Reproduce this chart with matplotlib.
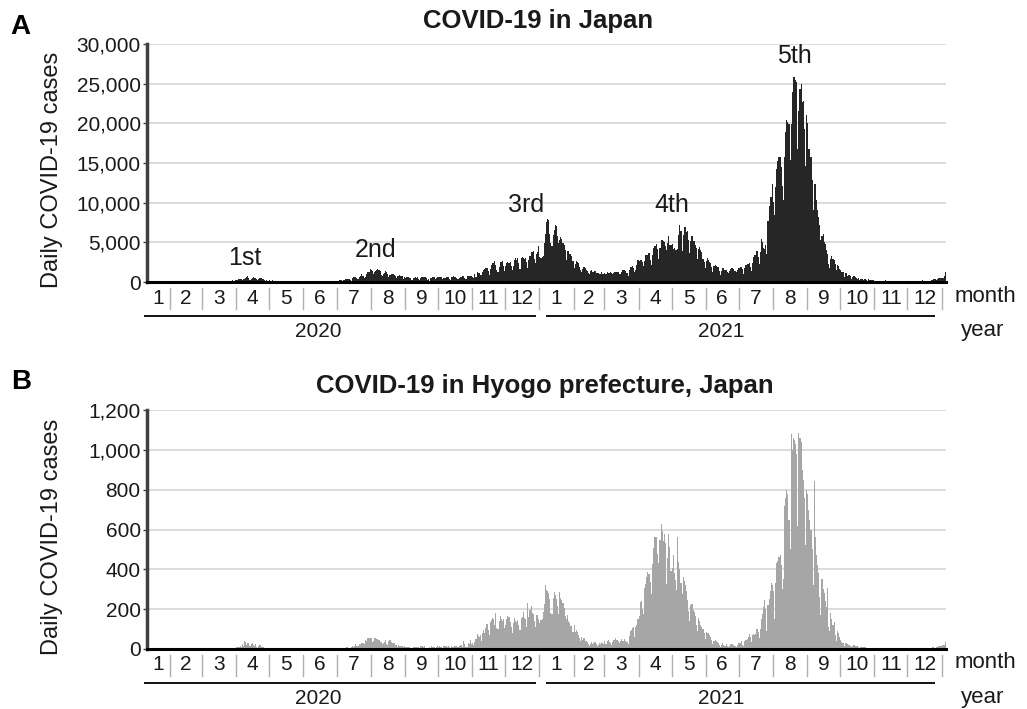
import numpy as np
import matplotlib.pyplot as plt
from matplotlib.ticker import FuncFormatter

plt.rcParams['font.family'] = ['Liberation Sans', 'DejaVu Sans']

W, H = 1027, 709
origin = np.datetime64('2020-01-01')
start_day = np.datetime64('2020-01-16')

# daily new cases, Japan (Jan 16 2020 - Jan 5 2022)
japan_2020 = [
    1, 0, 0, 0, 0, 0, 0, 1, 1, 0, 0, 2, 1, 3, 2, 1,
    3, 1, 2, 3, 2, 8, 1, 0, 3, 3, 1, 0, 2, 6, 9, 7, 11, 6, 6, 5, 12, 13, 22, 15, 14, 22, 14, 15, 21,
    14, 29, 23, 33, 32, 54, 41, 40, 43, 46, 52, 53, 63, 55, 38, 19, 44, 41, 42, 62, 51, 38, 45, 73, 94, 98, 110, 201, 165, 93, 228,
    291, 282, 356, 398, 360, 254, 343, 414, 523, 586, 720, 519, 307, 419, 482, 584, 551, 567, 363, 243, 387, 445, 442, 428, 349, 193, 180, 190, 188, 165,
    286, 145, 229, 173, 123, 58, 95, 85, 107, 100, 83, 54, 51, 76, 38, 56, 27, 29, 27, 38, 40, 29, 24, 14, 21, 35, 25, 40, 52, 43, 35,
    37, 33, 50, 44, 41, 42, 39, 29, 43, 53, 53, 54, 44, 71, 72, 45, 51, 47, 66, 65, 53, 39, 58, 99, 86, 105, 92, 108, 58, 89,
    128, 183, 250, 273, 210, 109, 198, 221, 357, 429, 398, 393, 265, 136, 451, 622, 594, 661, 508, 419, 631, 795, 981, 779, 813, 477, 598, 981, 1261, 1301, 1580,
    1536, 1331, 959, 1236, 1356, 1485, 1595, 1568, 1445, 824, 700, 966, 1177, 1361, 1227, 1019, 662, 852, 1010, 1038, 1040, 848, 720, 460, 750, 812, 865, 798, 762, 431, 587,
    502, 643, 627, 630, 492, 455, 267, 505, 509, 650, 555, 648, 414, 290, 539, 575, 616, 631, 634, 495, 314, 321, 189, 464, 559, 643, 593, 413, 554, 599,
    645, 588, 597, 584, 400, 450, 519, 692, 631, 618, 403, 306, 581, 677, 699, 608, 510, 421, 330, 531, 610, 654, 762, 727, 489, 427, 704, 727, 787, 732, 783,
    628, 487, 1058, 650, 1201, 1179, 1136, 938, 893, 1277, 1547, 1659, 1706, 1731, 1443, 943, 1699, 2201, 2388, 2428, 2596, 2166, 1528, 1228, 1950, 2509, 2500, 2684, 2070, 1438,
    2031, 2433, 2509, 2438, 2499, 2023, 1490, 2071, 2810, 2972, 2782, 3037, 2396, 1675, 2983, 3211, 3034, 2839, 2976, 2504, 1797, 2711, 3252, 3741, 3826, 3878, 2948, 2393, 3576, 3833, 4520,
]
japan_2021 = [
    3113, 3048, 3113, 3320, 4906, 6001, 7565, 7957, 7799, 6094, 4876, 4547, 5871, 6601, 7125, 7008, 5757, 4904, 5342, 5708, 5392, 4934, 4695, 3986, 2756, 3878, 3963, 3528, 3537, 3331, 2640,
    1788, 2300, 2640, 2571, 2381, 1951, 1555, 1269, 1677, 1879, 1705, 1549, 1394, 1092, 952, 1360, 1527, 1303, 1297, 1387, 1175, 1072, 1081, 996, 1070, 1218, 1030, 1028,
    1195, 1044, 1299, 1195, 1105, 1198, 1076, 1021, 1128, 1310, 1318, 1317, 1232, 1006, 1068, 1232, 1504, 1487, 1545, 1390, 1110, 816, 1516, 1917, 1922, 2004, 1782, 1256, 1551, 2083, 2802,
    2591, 2756, 2789, 2512, 2029, 2592, 3453, 3444, 3453, 3698, 2786, 2183, 3381, 4305, 4565, 4532, 4795, 4113, 2956, 4327, 5281, 5282, 5125, 5023, 4556, 4065, 4925, 5779, 4624, 4654,
    4781, 4140, 4312, 4077, 4030, 4200, 5946, 7221, 6482, 3880, 5893, 6918, 6894, 6260, 6418, 5289, 3684, 5158, 5764, 5230, 5140, 4700, 4230, 2868, 4210, 4410, 4000, 3770, 2904, 2568, 1794,
    2654, 3003, 2740, 2575, 2420, 1924, 1258, 2004, 2191, 1962, 1923, 1910, 1383, 931, 1401, 1757, 1743, 1560, 1470, 1293, 1117, 1401, 1684, 1753, 1758, 1617, 1425, 1230, 1564, 1732,
    1819, 1875, 1902, 1583, 1019, 1777, 2185, 2236, 2278, 2437, 1868, 1439, 2380, 3194, 3439, 3417, 3872, 3093, 2331, 3757, 5394, 5051, 4224, 4216, 4690, 3522, 7629, 9576, 10693, 10752, 12340,
    10034, 8387, 12029, 14205, 15263, 15750, 15753, 14472, 12076, 10296, 15812, 18889, 20366, 20144, 19955, 15386, 19955, 23917, 25876, 25876, 25492, 25157, 16806, 21563, 24312, 24969, 22735, 22785, 19277, 14639, 20999,
    20030, 16753, 16744, 15745, 12910, 9110, 12290, 12395, 10348, 9130, 8203, 7230, 5240, 5804, 6097, 5050, 4847, 4046, 3561, 2206, 1780, 2940, 3260, 2950, 2770, 2280, 1470, 2144, 1977, 1586,
    1457, 1321, 1240, 618, 1137, 1129, 819, 870, 880, 750, 378, 602, 704, 639, 557, 427, 450, 230, 384, 397, 421, 296, 351, 255, 154, 317, 293, 282, 244, 284, 264,
    86, 174, 152, 123, 162, 186, 166, 109, 174, 182, 204, 141, 173, 152, 78, 124, 159, 139, 128, 121, 117, 64, 98, 89, 98, 119, 120, 90, 99, 112,
    147, 135, 110, 115, 126, 105, 115, 93, 181, 144, 136, 150, 95, 194, 177, 177, 132, 183, 135, 129, 165, 229, 267, 336, 375, 335, 293, 404, 479, 522, 516,
]
japan_2022 = [555, 551, 783, 1266, 2638]

# daily new cases, Hyogo prefecture (same days)
hyogo_2020 = [
    0, 0, 0, 0, 0, 0, 0, 0, 0, 0, 0, 0, 0, 0, 0, 0,
    0, 0, 0, 0, 0, 0, 0, 0, 0, 0, 0, 0, 0, 0, 0, 0, 0, 0, 0, 0, 0, 0, 0, 0, 0, 0, 0, 0, 0,
    0, 0, 2, 1, 0, 1, 2, 3, 4, 1, 3, 2, 1, 4, 2, 1, 3, 1, 2, 0, 2, 1, 1, 3, 2, 1, 3, 2, 5, 3, 6,
    10, 12, 8, 15, 8, 23, 17, 42, 34, 22, 31, 30, 16, 24, 28, 20, 16, 25, 11, 6, 14, 18, 9, 10, 8, 6, 6, 7, 5, 3,
    7, 3, 3, 1, 2, 1, 2, 1, 0, 1, 2, 0, 0, 0, 0, 0, 0, 0, 0, 0, 0, 0, 0, 0, 0, 0, 0, 0, 0, 0, 0,
    0, 0, 0, 0, 0, 0, 0, 0, 0, 0, 0, 0, 0, 0, 0, 0, 0, 1, 0, 0, 0, 0, 0, 0, 0, 0, 1, 1, 2, 0,
    0, 1, 1, 2, 1, 0, 2, 3, 4, 8, 6, 5, 3, 10, 15, 12, 17, 26, 14, 15, 24, 26, 30, 32, 29, 27, 43, 38, 56, 56, 53,
    57, 33, 41, 53, 54, 48, 51, 46, 35, 36, 24, 32, 35, 44, 27, 22, 38, 44, 37, 30, 31, 28, 20, 19, 12, 18, 15, 14, 15, 9, 13,
    8, 11, 12, 9, 10, 7, 5, 10, 12, 11, 9, 12, 8, 4, 14, 13, 10, 16, 7, 5, 3, 5, 9, 6, 15, 11, 9, 3, 12, 14,
    11, 13, 12, 9, 5, 13, 14, 16, 10, 17, 8, 6, 13, 12, 10, 17, 14, 11, 9, 13, 22, 19, 10, 40, 26, 10, 12, 30, 24, 44, 23,
    28, 18, 36, 48, 73, 66, 58, 68, 42, 80, 93, 81, 104, 128, 96, 70, 135, 145, 155, 150, 120, 180, 104, 98, 140, 165, 150, 140, 150, 106,
    122, 151, 165, 162, 134, 110, 80, 130, 155, 140, 138, 145, 120, 95, 154, 160, 188, 158, 150, 110, 230, 160, 197, 218, 180, 175, 140, 110, 172, 170, 150,
]
hyogo_2021 = [
    130, 145, 152, 185, 225, 320, 298, 290, 282, 250, 183, 174, 256, 285, 270, 250, 214, 174, 285, 255, 245, 230, 207, 166, 150, 170, 142, 130, 116, 113, 84,
    120, 83, 93, 84, 70, 56, 40, 60, 46, 56, 42, 40, 33, 25, 16, 24, 35, 26, 30, 36, 24, 14, 20, 29, 27, 35, 30, 24,
    38, 25, 40, 44, 36, 32, 21, 33, 47, 45, 54, 44, 42, 28, 38, 52, 42, 40, 48, 38, 34, 25, 66, 88, 94, 105, 110, 62, 111, 123, 152,
    164, 236, 240, 200, 174, 305, 328, 364, 387, 375, 334, 278, 425, 505, 560, 560, 562, 476, 430, 547, 630, 590, 543, 577, 530, 328, 455, 577, 512, 392,
    405, 470, 381, 347, 294, 560, 439, 402, 330, 278, 363, 342, 320, 290, 245, 190, 141, 222, 228, 197, 185, 168, 122, 90, 155, 139, 120, 111, 98, 80, 48,
    84, 82, 78, 69, 59, 45, 27, 41, 47, 39, 36, 29, 20, 11, 19, 29, 22, 15, 23, 17, 12, 13, 24, 27, 23, 21, 16, 11, 22, 30,
    28, 31, 39, 21, 16, 39, 47, 52, 58, 74, 62, 36, 69, 77, 68, 77, 98, 83, 57, 99, 150, 175, 210, 245, 200, 90, 220, 250, 290, 330, 320,
    290, 150, 330, 430, 440, 460, 470, 420, 300, 350, 720, 760, 800, 780, 650, 500, 1080, 1000, 1060, 1050, 1030, 980, 620, 1085, 1060, 1040, 900, 850, 760, 520, 800,
    780, 700, 650, 600, 500, 320, 845, 560, 470, 420, 380, 260, 170, 350, 300, 280, 240, 210, 305, 110, 90, 180, 150, 120, 135, 70, 40, 90, 80, 60,
    47, 35, 31, 13, 30, 29, 25, 22, 18, 16, 8, 13, 18, 14, 13, 13, 9, 6, 11, 10, 9, 9, 11, 5, 3, 5, 4, 6, 5, 4, 3,
    1, 2, 4, 2, 1, 3, 1, 0, 2, 3, 2, 1, 2, 1, 0, 1, 1, 2, 1, 0, 2, 1, 1, 0, 1, 3, 2, 2, 2, 1,
    1, 3, 1, 2, 1, 2, 3, 1, 2, 3, 1, 2, 1, 2, 2, 4, 3, 2, 2, 3, 6, 5, 8, 8, 5, 6, 10, 12, 14, 16, 17,
]
hyogo_2022 = [18, 20, 22, 35, 58]

wave_labels = ['1st', '2nd', '3rd', '4th', '5th']
wave_dates = ['2020-04-09', '2020-08-05', '2020-12-20', '2021-05-01', '2021-08-20']
wave_text_y = [2100, 3100, 8800, 8800, 27600]

years = [2020, 2021]
x_start, x_end = 10, 735


def px(x, y):
    return x / W, 1 - y / H


def day_of(d):
    return int((np.datetime64(d, 'D') - origin).astype(int))


def draw_calendar(ax, h):
    tr = ax.get_xaxis_transform()
    months = np.arange(np.datetime64('2020-01'), np.datetime64('2022-01'), dtype='datetime64[M]')
    for m in months:
        a = day_of(m.astype('datetime64[D]'))
        b = day_of((m + 1).astype('datetime64[D]'))
        c = (max(a, x_start) + b) / 2
        ax.text(c, -16 / h, str(m.astype(object).month), transform=tr, ha='center', va='center',
                fontsize=15, color='#1a1a1a', clip_on=False)
        ax.plot([b, b], [-6 / h, -27 / h], transform=tr, color='#b0b0b0', lw=1, clip_on=False)
    for yr in years:
        a = day_of(f'{yr}-01-01')
        b = day_of(f'{yr + 1}-01-01')
        if yr == 2020:
            l0, l1 = x_start - 3, b - 3
        else:
            l0, l1 = a + 6, b - 6
        ax.plot([l0, l1], [-34 / h, -34 / h], transform=tr, color='black', lw=1.3, clip_on=False,
                solid_capstyle='butt')
        ax.text(a + 165, -49 / h, str(yr), transform=tr, ha='center', va='center',
                fontsize=15, color='#1a1a1a', clip_on=False)


def style(ax, top):
    ax.set_xlim(x_start, x_end)
    ax.set_ylim(0, top)
    ax.set_xticks([])
    ax.yaxis.set_major_formatter(FuncFormatter(lambda v, p: f'{int(v):,}'))
    ax.tick_params(axis='y', length=3, width=1, color='#404040', pad=1.5, labelsize=15,
                   labelcolor='#1a1a1a')
    ax.yaxis.grid(True, color='#d9d9d9', lw=1.3)
    ax.set_axisbelow(True)
    for s in ['top', 'right']:
        ax.spines[s].set_visible(False)
    ax.spines['left'].set_color('#404040')
    ax.spines['left'].set_linewidth(2.5)
    ax.spines['bottom'].set_color('black')
    ax.spines['bottom'].set_linewidth(2.2)
    ax.set_ylabel('Daily COVID-19 cases', fontsize=17, color='#1a1a1a')


japan = np.array(japan_2020 + japan_2021 + japan_2022)
hyogo = np.array(hyogo_2020 + hyogo_2021 + hyogo_2022)
days = day_of(start_day) + np.arange(len(japan))

fig = plt.figure(figsize=(W / 100, H / 100), dpi=100)
axA = fig.add_axes([147 / W, 1 - 282 / H, 799 / W, 238 / H])
axB = fig.add_axes([147 / W, 1 - 649 / H, 799 / W, 239 / H])

axA.bar(days, japan, width=1.0, align='edge', color='#262626', linewidth=0)
style(axA, 30000)
axA.set_yticks(np.arange(0, 30001, 5000))
axA.yaxis.set_label_coords(-0.105, 0.47)
draw_calendar(axA, 238)
for lab, d, y in zip(wave_labels, wave_dates, wave_text_y):
    axA.text(day_of(d), y, lab, ha='center', va='baseline', fontsize=18, color='#1a1a1a')

axB.bar(days, hyogo, width=1.0, align='edge', color='#a6a6a6', linewidth=0)
style(axB, 1200)
axB.set_yticks(np.arange(0, 1201, 200))
axB.yaxis.set_label_coords(-0.105, 0.47)
draw_calendar(axB, 239)

fig.text(*px(538, 21), 'COVID-19 in Japan', ha='center', va='center', fontsize=18.5,
         fontweight='bold', color='#1a1a1a')
fig.text(*px(545, 386), 'COVID-19 in Hyogo prefecture, Japan', ha='center', va='center',
         fontsize=18.5, fontweight='bold', color='#1a1a1a')
fig.text(*px(10, 27), 'A', ha='left', va='center', fontsize=20, fontweight='bold')
fig.text(*px(11, 382), 'B', ha='left', va='center', fontsize=20, fontweight='bold')

for yy_m, yy_y in [(296, 331), (662, 697)]:
    fig.text(*px(955, yy_m), 'month', ha='left', va='center', fontsize=16, color='#1a1a1a')
    fig.text(*px(961, yy_y), 'year', ha='left', va='center', fontsize=16, color='#1a1a1a')

fig.savefig('out.png', dpi=100)
